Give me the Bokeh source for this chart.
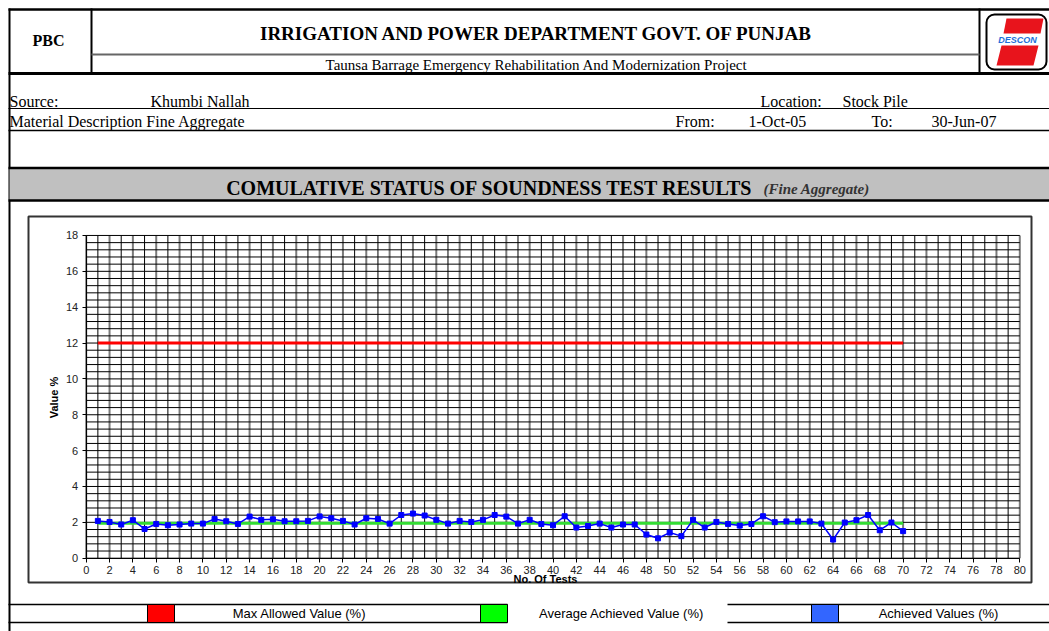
import numpy as np
from bokeh.plotting import figure
from bokeh.models import Range1d, LinearAxis, FixedTicker, Grid, Quad
from bokeh.core.properties import value
from bokeh.embed import file_html
from bokeh.resources import INLINE

# ---------------- data ----------------
tests = list(range(1, 71))
achieved = [2.08, 2.02, 1.88, 2.12, 1.63, 1.91, 1.84, 1.88, 1.93, 1.93,
            2.19, 2.06, 1.91, 2.32, 2.14, 2.17, 2.06, 2.06, 2.08, 2.33,
            2.23, 2.08, 1.88, 2.23, 2.19, 1.93, 2.41, 2.49, 2.38, 2.14,
            1.93, 2.08, 2.02, 2.14, 2.41, 2.32, 1.93, 2.14, 1.91, 1.84,
            2.34, 1.71, 1.80, 1.93, 1.71, 1.88, 1.88, 1.32, 1.11, 1.43,
            1.23, 2.14, 1.71, 2.02, 1.91, 1.82, 1.91, 2.34, 2.01, 2.05,
            2.05, 2.05, 1.93, 1.04, 1.99, 2.12, 2.41, 1.56, 1.99, 1.51]
max_allowed = [12.0] * len(tests)
avg_achieved = [1.95] * len(tests)
x_ticks = list(range(0, 81, 2))
y_ticks = list(range(0, 19, 2))
legend_labels = ["Max Allowed Value (%)", "Average Achieved Value (%)", "Achieved Values (%)"]

# ---------------- layout constants (page pixels) ----------------
W, H = 1049, 631
X0_PIX, XSCALE = 85.7, 11.67      # data x=0 at page x, px per unit
Y0_PIX, YSCALE = 557.7, 17.93     # data y=0 at page y, px per unit

xr = Range1d((0 - X0_PIX) / XSCALE, (W - X0_PIX) / XSCALE)
yr = Range1d((Y0_PIX - H) / YSCALE, (Y0_PIX - 0) / YSCALE)

p = figure(width=W, height=H, output_backend="svg", toolbar_location=None,
           x_range=xr, y_range=yr, x_axis_location=None, y_axis_location=None,
           min_border=0, outline_line_color=None,
           background_fill_color="white", border_fill_color="white")
for r in list(p.center):
    if isinstance(r, Grid):
        r.visible = False

p.extra_x_ranges = {"px": Range1d(0, W)}
p.extra_y_ranges = {"py": Range1d(H, 0)}
PG = dict(x_range_name="px", y_range_name="py")

SERIF = value("Liberation Serif")
SANS = value("Liberation Sans")

def hline(x0, x1, y, w=1.0, c="black"):
    p.segment(x0=[x0], y0=[y], x1=[x1], y1=[y], line_color=c, line_width=w, **PG)

def vline(x, y0, y1, w=1.0, c="black"):
    p.segment(x0=[x], y0=[y0], x1=[x], y1=[y1], line_color=c, line_width=w, **PG)

def txt(x, y, s, size, font=SERIF, style="normal", align="left", color="black", angle=0):
    p.text(x=[x], y=[y], text=[s], text_font=font, text_font_size=f"{size}px",
           text_font_style=style, text_align=align, text_baseline="middle",
           text_color=color, angle=angle, **PG)

# ---------------- header ----------------
hline(8, 1049, 9, 2.5)
vline(9, 8, 631, 2)
vline(91, 8, 73, 2)
vline(979, 8, 73, 2)
hline(91, 979, 54, 2, "#666666")
hline(8, 1049, 73, 3)
txt(48, 40, "PBC", 16, style="bold", align="center")
txt(536, 33, "IRRIGATION AND POWER DEPARTMENT GOVT. OF PUNJAB", 19, style="bold", align="center")
txt(536, 64, "Taunsa Barrage Emergency Rehabilitation And Modernization Project", 15, align="center")

# logo
logo_box = p.quad(left=[986], right=[1046], top=[14], bottom=[69], fill_color="white",
                  line_color="black", line_width=2, **PG)
if "border_radius" in Quad.properties():
    logo_box.glyph.border_radius = 8
p.patch(x=[1006, 1043, 1040, 1003], y=[18, 18, 33, 33], fill_color="#e8141c",
        line_color=None, **PG)
p.patch(x=[1001, 1038, 1033, 996], y=[45, 45, 65, 65], fill_color="#e8141c",
        line_color=None, **PG)
txt(1017, 39, "DESCON", 9, font=SANS, style="bold italic", align="center", color="#1e6fd9")

# info rows
txt(9, 101, "Source:", 16)
txt(150, 101, "Khumbi Nallah", 16)
txt(760, 101, "Location:", 16)
txt(842, 101, "Stock Pile", 16)
hline(8, 1049, 108, 1.2)
txt(9, 121, "Material Description Fine Aggregate", 16)
txt(675, 121, "From:", 16)
txt(748, 121, "1-Oct-05", 16)
txt(871, 121, "To:", 16)
txt(931, 121, "30-Jun-07", 16)
hline(8, 1049, 130, 1.5)

# title band
p.quad(left=[9], right=[1049], top=[168], bottom=[200], fill_color="#c0c0c0",
       line_color=None, **PG)
hline(8, 1049, 167.5, 2.5)
hline(8, 1049, 200, 2.5)
txt(489, 187, "COMULATIVE STATUS OF SOUNDNESS TEST RESULTS", 20, style="bold", align="center")
txt(763, 188, "(Fine Aggregate)", 15, style="bold italic", color="#333333")

# chart frame
p.quad(left=[28], right=[1031], top=[216], bottom=[582], fill_color=None,
       line_color="#333333", line_width=2, **PG)

# ---------------- chart grid ----------------
gx = np.arange(0, 81, 1)
major_x = gx[gx % 2 == 0]
minor_x = gx[gx % 2 == 1]
p.segment(x0=minor_x, y0=0, x1=minor_x, y1=18, line_color="black", line_width=1)
p.segment(x0=major_x, y0=0, x1=major_x, y1=18, line_color="#7a7a7a", line_width=2)
gy = np.round(np.arange(0, 18.01, 0.4), 2)
p.segment(x0=0, y0=gy, x1=80, y1=gy, line_color="black", line_width=1)

# ---------------- axes ----------------
xaxis = LinearAxis(fixed_location=0, bounds=(0, 80),
                   ticker=FixedTicker(ticks=x_ticks, minor_ticks=[]))
yaxis = LinearAxis(fixed_location=0, bounds=(0, 18),
                   ticker=FixedTicker(ticks=y_ticks, minor_ticks=[]))
for ax in (xaxis, yaxis):
    ax.axis_line_color = "black"
    ax.axis_line_width = 1
    ax.major_tick_line_color = "black"
    ax.major_tick_out = 4
    ax.major_tick_in = 0
    ax.major_label_text_font = "Liberation Sans"
    ax.major_label_text_font_size = "11px"
    ax.major_label_text_color = "#222222"
    ax.major_label_standoff = 4
p.add_layout(xaxis, "below")
p.add_layout(yaxis, "left")

txt(53, 397, "Value %", 11, font=SANS, style="bold", align="center", angle=np.pi / 2)
txt(545, 578, "No. Of Tests", 11, font=SANS, style="bold", align="center")

# ---------------- series ----------------
p.line(tests, max_allowed, line_color="#ff0000", line_width=3)
p.line(tests, avg_achieved, line_color="#33dd33", line_width=3)
p.line(tests, achieved, line_color="#0000ff", line_width=1.5)
p.scatter(tests, achieved, marker="square", size=5, fill_color="#0000ff", line_color="#0000ff")

# ---------------- legend row ----------------
hline(8, 507, 604, 1.5)
hline(8, 507, 622, 1.5)
hline(727, 1049, 604, 1.5)
hline(727, 1049, 622, 1.5)
p.quad(left=[147], right=[174], top=[604], bottom=[622], fill_color="#ff0000", line_color="black", line_width=1, **PG)
p.quad(left=[480], right=[507], top=[604], bottom=[622], fill_color="#00ff00", line_color="black", line_width=1, **PG)
p.quad(left=[811], right=[838], top=[604], bottom=[622], fill_color="#3366ff", line_color="black", line_width=1, **PG)
txt(299, 613, legend_labels[0], 13, font=SANS, align="center")
txt(621, 613, legend_labels[1], 13, font=SANS, align="center")
txt(938, 613, legend_labels[2], 13, font=SANS, align="center")

open("out.html", "w").write(file_html(p, INLINE))
